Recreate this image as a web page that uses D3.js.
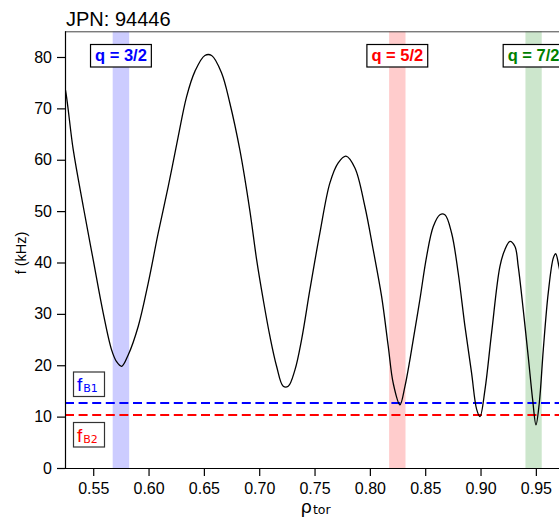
<!DOCTYPE html>
<html>
<head>
<meta charset="utf-8">
<script src="https://cdn.jsdelivr.net/npm/d3@7/dist/d3.min.js"></script>
<style>
  body { margin: 0; background: #fff; }
  text { font-family: Arial, "Liberation Sans", sans-serif; }
</style>
</head>
<body>
<svg id="chart" width="559" height="520"></svg>
<script>
// Mode frequency profile versus normalised toroidal radius
const rho = [
  0.5217, 0.5244, 0.5319, 0.5410, 0.5500, 0.5590, 0.5666, 0.5711, 0.5757, 0.5816,
  0.5907, 0.5997, 0.6087, 0.6178, 0.6268, 0.6344, 0.6419, 0.6509, 0.6570, 0.6660,
  0.6735, 0.6826, 0.6916, 0.6977, 0.7036, 0.7097, 0.7157, 0.7217, 0.7262, 0.7323,
  0.7383, 0.7458, 0.7548, 0.7639, 0.7714, 0.7784, 0.7865, 0.7955, 0.8030, 0.8106,
  0.8166, 0.8211, 0.8272, 0.8317, 0.8362, 0.8392, 0.8452, 0.8513, 0.8573, 0.8633,
  0.8678, 0.8739, 0.8798, 0.8859, 0.8919, 0.8965, 0.8995, 0.9040, 0.9100, 0.9175,
  0.9220, 0.9266, 0.9311, 0.9341, 0.9386, 0.9431, 0.9471, 0.9501, 0.9531, 0.9567,
  0.9612, 0.9658, 0.9679, 0.9709, 0.9744
];
const freq = [
  76.0, 74.2, 62.0, 50.9, 40.5, 30.2, 23.0, 20.7, 19.8, 22.0,
  27.6, 36.0, 45.7, 54.8, 64.5, 72.3, 77.2, 80.3, 80.3, 76.9,
  71.0, 61.8, 50.0, 40.5, 32.8, 25.6, 19.8, 15.9, 15.9, 19.1,
  25.0, 34.7, 45.7, 55.5, 59.4, 60.7, 58.4, 50.9, 42.5, 33.4,
  23.7, 16.5, 12.3, 15.9, 21.1, 25.0, 32.8, 41.2, 47.0, 49.3,
  49.3, 45.7, 38.0, 27.6, 18.5, 11.4, 10.0, 15.2, 26.3, 39.2,
  42.5, 44.1, 43.1, 39.2, 30.8, 21.7, 13.3, 8.4, 12.65, 23.0,
  34.1, 40.9, 41.7, 39.2, 35.0
];

// Rational q surfaces (radial extent of each shaded band)
const qLabels = ["q = 3/2", "q = 5/2", "q = 7/2"];
const qLo = [0.5676, 0.8174, 0.9406];
const qHi = [0.5825, 0.8322, 0.9553];

// Reference frequencies
const fbNames = ["B1", "B2"];
const fbValues = [12.65, 10.3];

const xTicks = [0.55, 0.60, 0.65, 0.70, 0.75, 0.80, 0.85, 0.90, 0.95];
const yTicks = [0, 10, 20, 30, 40, 50, 60, 70, 80];

const title = "JPN: 94446";

// ---- layout ----
const svg = d3.select("#chart");
const plotLeft = 65, plotBottom = 468, plotTop = 31.3;

const x = d3.scaleLinear().domain([0.5245, 0.9755]).range([plotLeft, plotLeft + 0.451 * 1106.6]);
const y = d3.scaleLinear().domain([0, 85]).range([plotBottom, plotTop]);

const qFill = ["#ccccff", "#ffcccc", "#cce6cc"];
const qText = ["#0000ff", "#ff0000", "#008000"];
const fbColor = ["#0000ff", "#ff0000"];

svg.append("defs").append("clipPath").attr("id", "plotClip")
  .append("rect").attr("x", plotLeft).attr("y", plotTop)
  .attr("width", 600).attr("height", plotBottom - plotTop);

// shaded q bands
svg.append("g").selectAll("rect").data(qLo).join("rect")
  .attr("x", (d) => x(d))
  .attr("width", (d, i) => x(qHi[i]) - x(d))
  .attr("y", y(85))
  .attr("height", y(0) - y(85))
  .attr("fill", (d, i) => qFill[i]);

// dashed reference frequencies
svg.append("g").selectAll("line").data(fbValues).join("line")
  .attr("x1", plotLeft).attr("x2", 559)
  .attr("y1", (d) => y(d)).attr("y2", (d) => y(d))
  .attr("stroke", (d, i) => fbColor[i])
  .attr("stroke-width", 2)
  .attr("stroke-dasharray", "9,4.6");

// frequency curve
const line = d3.line()
  .x((d, i) => x(rho[i]))
  .y((d) => y(d))
  .curve(d3.curveCatmullRom.alpha(0.5));

svg.append("path")
  .datum(freq)
  .attr("clip-path", "url(#plotClip)")
  .attr("d", line)
  .attr("fill", "none")
  .attr("stroke", "#000")
  .attr("stroke-width", 1.3)
  .attr("stroke-linejoin", "round");

// top frame
svg.append("line")
  .attr("x1", plotLeft).attr("x2", 559)
  .attr("y1", plotTop + 0.5).attr("y2", plotTop + 0.5)
  .attr("stroke", "#444").attr("stroke-width", 1);

// axes
const yAxis = d3.axisLeft(y).tickValues(yTicks).tickSize(8).tickPadding(5)
  .tickFormat(d3.format("d"));
const gy = svg.append("g").attr("transform", `translate(${plotLeft},0)`).call(yAxis);
gy.select(".domain").attr("stroke", "#000").attr("stroke-width", 1.2)
  .attr("d", `M0.5,${plotTop}V${plotBottom}`);
gy.selectAll(".tick line").attr("stroke", "#000").attr("stroke-width", 1.2);
gy.selectAll(".tick text").attr("font-size", 16).attr("fill", "#000")
  .attr("font-family", "Arial, 'Liberation Sans', sans-serif");

const xAxis = d3.axisBottom(x).tickValues(xTicks).tickSize(8).tickPadding(6.5)
  .tickFormat(d3.format(".2f"));
const gx = svg.append("g").attr("transform", `translate(0,${plotBottom})`).call(xAxis);
gx.select(".domain").attr("stroke", "#000").attr("stroke-width", 1.2)
  .attr("d", `M${plotLeft},0.5H559`);
gx.selectAll(".tick line").attr("stroke", "#000").attr("stroke-width", 1.2);
gx.selectAll(".tick text").attr("font-size", 16).attr("fill", "#000")
  .attr("font-family", "Arial, 'Liberation Sans', sans-serif");

// title
svg.append("text").attr("x", 66).attr("y", 25.5)
  .attr("font-size", 20).attr("fill", "#000").text(title);

// axis labels
svg.append("text")
  .attr("transform", "translate(26,253) rotate(-90)")
  .attr("text-anchor", "middle")
  .attr("font-size", 14.5).attr("fill", "#000")
  .text("f (kHz)");

const xl = svg.append("text").attr("x", 300.5).attr("y", 513).attr("fill", "#000");
xl.append("tspan").attr("font-size", 18).attr("font-family", "'DejaVu Sans', sans-serif").text("ρ");
xl.append("tspan").attr("font-size", 12.5).attr("dy", 1).attr("dx", 1)
  .attr("font-family", "'DejaVu Sans', sans-serif").text("tor");

// q surface labels in boxes
qLabels.forEach((lab, i) => {
  const cx = x((qLo[i] + qHi[i]) / 2);
  const g = svg.append("g");
  const t = g.append("text")
    .attr("x", cx).attr("y", 60.5)
    .attr("text-anchor", "middle")
    .attr("font-size", 16.5).attr("font-weight", "bold")
    .attr("fill", qText[i]).text(lab);
  const w = t.node().getComputedTextLength() + 9;
  g.insert("rect", "text")
    .attr("x", cx - w / 2).attr("y", 44.5)
    .attr("width", w).attr("height", 22.5)
    .attr("fill", "#fff").attr("stroke", "#000").attr("stroke-width", 1.2);
});

// reference frequency labels in boxes
const fbBoxTop = [372, 422.5];
fbNames.forEach((nm, i) => {
  const g = svg.append("g");
  g.append("rect")
    .attr("x", 73.5).attr("y", fbBoxTop[i])
    .attr("width", 31).attr("height", 24.5)
    .attr("fill", "#fff").attr("stroke", "#333").attr("stroke-width", 1.2);
  const t = g.append("text")
    .attr("x", 77).attr("y", fbBoxTop[i] + 19)
    .attr("fill", fbColor[i]);
  t.append("tspan").attr("font-size", 19).text("f");
  t.append("tspan").attr("font-size", 11).attr("dy", 1).attr("dx", 1)
    .attr("font-family", "'DejaVu Sans', sans-serif").text(nm);
});
</script>
</body>
</html>
